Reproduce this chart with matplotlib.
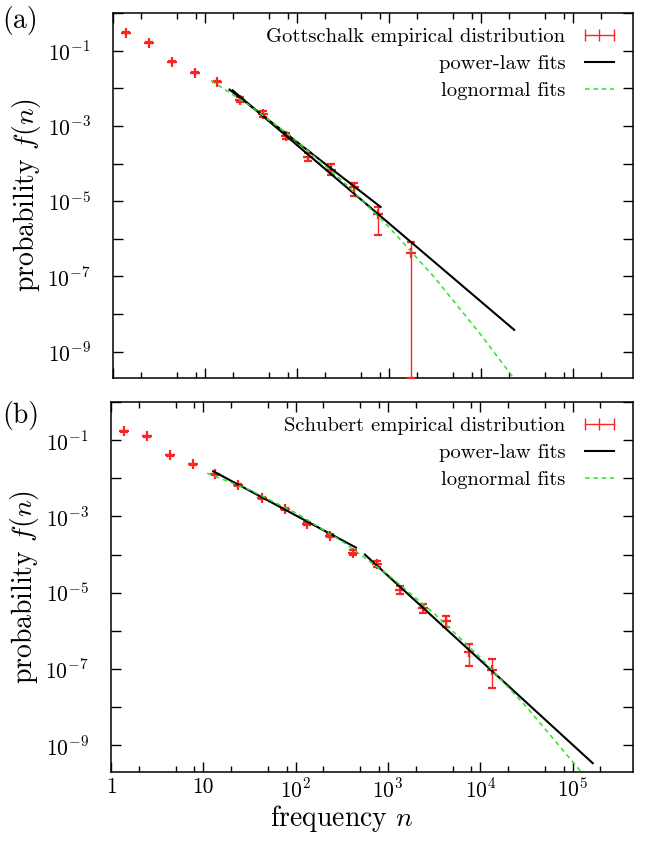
import matplotlib
matplotlib.use("Agg")
import matplotlib.pyplot as plt
from matplotlib.lines import Line2D
from matplotlib.ticker import FixedLocator, FuncFormatter, NullLocator
import numpy as np

plt.rcParams['font.family'] = 'serif'
plt.rcParams['font.serif'] = ['cmr10', 'DejaVu Serif']
plt.rcParams['mathtext.fontset'] = 'cm'
plt.rcParams['axes.formatter.use_mathtext'] = True
plt.rcParams['axes.unicode_minus'] = False

RED = '#ff2424'
GREEN = '#2ee02e'

# ---- panel (a): Gottschalk
a_n = [1.38, 2.46, 4.38, 7.8, 13.5, 24, 42.7, 76, 132, 234, 417, 760, 1730]
a_f = [0.30, 0.163, 0.051, 0.026, 0.015, 5.0e-3, 2.1e-3, 5.5e-4, 1.5e-4, 6.8e-5, 2.4e-5, 4.6e-6, 4.2e-7]
a_lo = [0.29, 0.158, 0.049, 0.025, 0.0143, 4.3e-3, 1.75e-3, 4.6e-4, 1.2e-4, 4.9e-5, 1.4e-5, 1.3e-6, 2e-10]
a_hi = [0.31, 0.168, 0.053, 0.027, 0.0157, 5.8e-3, 2.5e-3, 6.6e-4, 1.9e-4, 9.5e-5, 3.1e-5, 7.1e-6, 8.3e-7]

a_pl1_n = [18.5, 800]
a_pl1_f = [9.2e-3, 7.2e-6]
a_pl2_n = [20, 23000]
a_pl2_f = [8.8e-3, 3.8e-9]
a_ln_n = [11.6, 31.6, 100, 316, 1000, 3160, 10000, 23000]
a_ln_f = [1.6e-2, 3.3e-3, 3.9e-4, 3.35e-5, 2.06e-6, 9.1e-8, 2.8e-9, 1.9e-10]

# ---- panel (b): Schubert
b_n = [1.38, 2.46, 4.38, 7.8, 13.5, 24, 42.7, 76, 132, 234, 417, 760, 1350, 2400, 4270, 7600, 13500]
b_f = [0.173, 0.127, 0.040, 0.0233, 0.0127, 6.5e-3, 2.98e-3, 1.6e-3, 6.5e-4, 3.16e-4, 1.13e-4, 5.8e-5,
       1.2e-5, 4.0e-6, 1.83e-6, 2.8e-7, 9.4e-8]
b_lo = [0.168, 0.123, 0.0385, 0.0224, 0.0121, 6.1e-3, 2.8e-3, 1.5e-3, 6.0e-4, 2.9e-4, 0.98e-4, 4.8e-5,
        9.4e-6, 3.0e-6, 1.27e-6, 1.2e-7, 3.2e-8]
b_hi = [0.178, 0.131, 0.0415, 0.0242, 0.0133, 6.9e-3, 3.15e-3, 1.7e-3, 7.0e-4, 3.4e-4, 1.3e-4, 6.9e-5,
        1.53e-5, 5.1e-6, 2.5e-6, 4.5e-7, 1.83e-7]

b_pl1_n = [12.8, 449]
b_pl1_f = [1.53e-2, 1.53e-4]
b_pl2_n = [562, 1.65e5]
b_pl2_f = [1.0e-4, 3.4e-10]
b_ln_n = [11.0, 31.6, 100, 316, 1000, 3160, 10000, 31600, 126000]
b_ln_f = [1.36e-2, 5.0e-3, 1.24e-3, 2.25e-4, 2.97e-5, 2.86e-6, 2.0e-7, 1.02e-8, 1.9e-10]

xticklabels = {1: '1', 10: '10', 100: r'$10^2$', 1000: r'$10^3$', 10000: r'$10^4$', 100000: r'$10^5$'}

fig = plt.figure(figsize=(6.46, 8.41), dpi=100)
ax_a = fig.add_axes([113/646, 1-378/841, 520/646, 365/841])
ax_b = fig.add_axes([111/646, 1-772/841, 522/646, 370/841])


def setup(ax, show_x):
    ax.set_xscale('log')
    ax.set_yscale('log')
    ax.set_xlim(1, 4.5e5)
    ax.set_ylim(2e-10, 1)
    ax.xaxis.set_major_locator(FixedLocator([10.0**k for k in range(0, 6)]))
    ax.xaxis.set_minor_locator(FixedLocator([m * 10.0**k for k in range(0, 6) for m in (2, 5, 8)]))
    if show_x:
        ax.xaxis.set_major_formatter(FuncFormatter(lambda v, p: xticklabels.get(int(round(v)), '')))
    else:
        ax.xaxis.set_major_formatter(FuncFormatter(lambda v, p: ''))
    ax.xaxis.set_minor_formatter(FuncFormatter(lambda v, p: ''))
    ax.yaxis.set_major_locator(FixedLocator([10.0**k for k in range(-10, 1)]))
    ax.yaxis.set_minor_locator(NullLocator())

    def yfmt(v, p):
        k = int(round(np.log10(v)))
        return r'$10^{%d}$' % k if k % 2 != 0 else ''
    ax.yaxis.set_major_formatter(FuncFormatter(yfmt))
    ax.tick_params(which='both', direction='in', top=True, right=True, width=1.0)
    ax.tick_params(which='major', length=7)
    ax.tick_params(which='minor', length=4)
    ax.tick_params(axis='y', labelsize=15.5, pad=16)
    ax.tick_params(axis='x', labelsize=15.5, pad=4)
    for s in ax.spines.values():
        s.set_linewidth(1.1)
    ax.set_ylabel(r'probability $f(n)$', fontsize=20)
    ax.yaxis.set_label_coords(-0.135, 0.5)


def draw(ax, n, f, lo, hi, pls, ln, name):
    f = np.array(f)
    err = [f - np.array(lo), np.array(hi) - f]
    eb = ax.errorbar(n, f, yerr=err, fmt='+', color=RED, ms=7, mew=1.6,
                     elinewidth=1.0, capsize=3, capthick=1.0, zorder=3)
    for art in eb.lines[1] + eb.lines[2]:
        art.set_clip_on(False)
    for pn, pf in pls:
        ax.plot(pn, pf, color='black', lw=1.5, zorder=4)
    ax.plot(ln[0], ln[1], color=GREEN, lw=1.1, ls=(0, (3, 2.5)), zorder=5)
    handles = [
        Line2D([0], [0], color=RED, lw=1.0, marker='|', ms=8, mew=1.0),
        Line2D([0], [0], color='black', lw=1.5),
        Line2D([0], [0], color=GREEN, lw=1.1, ls=(0, (3, 2.5))),
    ]
    labels = [name + ' empirical distribution', 'power-law fits', 'lognormal fits']
    ax.legend(handles, labels, loc='upper right', frameon=False, markerfirst=False,
              numpoints=3, fontsize=14.8, handlelength=2.0, handletextpad=0.65,
              labelspacing=0.42, borderpad=0, borderaxespad=0,
              bbox_to_anchor=(0.975, 0.96))


setup(ax_a, False)
setup(ax_b, True)
draw(ax_a, a_n, a_f, a_lo, a_hi, [(a_pl1_n, a_pl1_f), (a_pl2_n, a_pl2_f)], (a_ln_n, a_ln_f), 'Gottschalk')
draw(ax_b, b_n, b_f, b_lo, b_hi, [(b_pl1_n, b_pl1_f), (b_pl2_n, b_pl2_f)], (b_ln_n, b_ln_f), 'Schubert')

ax_b.set_xlabel(r'frequency $n$', fontsize=20)
ax_b.xaxis.set_label_coords(0.4425, -0.083)

fig.text(0.003, 0.976, '(a)', fontsize=20, va='center', ha='left')
fig.text(0.003, 0.5065, '(b)', fontsize=20, va='center', ha='left')

fig.savefig('out.png', dpi=100)
